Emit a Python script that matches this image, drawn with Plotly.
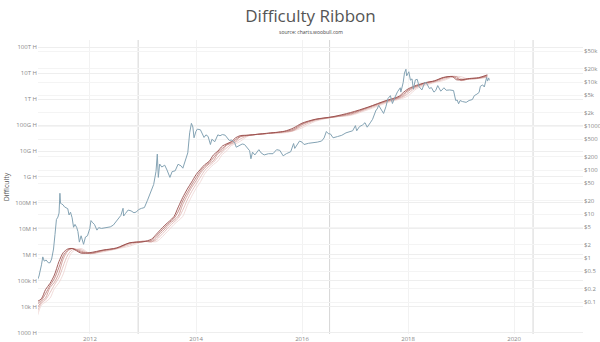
import plotly.graph_objects as go
import numpy as np

# ---------------- data ----------------
price_dates = [
    "2011-01-01", "2011-01-15", "2011-02-01", "2011-02-10", "2011-02-20", "2011-03-05", "2011-03-20",
    "2011-04-01", "2011-04-12", "2011-04-25", "2011-05-05", "2011-05-15", "2011-05-25", "2011-06-02",
    "2011-06-08", "2011-06-12", "2011-06-20", "2011-06-30", "2011-07-10", "2011-07-20", "2011-08-01",
    "2011-08-10", "2011-08-20", "2011-08-31", "2011-09-10", "2011-09-20", "2011-10-01", "2011-10-10",
    "2011-10-20", "2011-11-01", "2011-11-18", "2011-12-01", "2011-12-15", "2011-12-31", "2012-01-08",
    "2012-01-20", "2012-02-01", "2012-02-18", "2012-03-01", "2012-03-20", "2012-04-10", "2012-05-01",
    "2012-05-20", "2012-06-10", "2012-06-30", "2012-07-15", "2012-08-01", "2012-08-16", "2012-08-20",
    "2012-09-01", "2012-09-20", "2012-10-10", "2012-10-30", "2012-11-15", "2012-12-01", "2012-12-20",
    "2013-01-10", "2013-01-31", "2013-02-15", "2013-02-28", "2013-03-15", "2013-03-31", "2013-04-09",
    "2013-04-16", "2013-04-25", "2013-05-10", "2013-05-30", "2013-06-15", "2013-07-05", "2013-07-20",
    "2013-08-10", "2013-08-30", "2013-09-20", "2013-10-02", "2013-10-20", "2013-11-05", "2013-11-18",
    "2013-11-30", "2013-12-10", "2013-12-18", "2013-12-31", "2014-01-10", "2014-01-31", "2014-02-15",
    "2014-02-25", "2014-03-10", "2014-03-25", "2014-04-10", "2014-04-20", "2014-05-10", "2014-05-31",
    "2014-06-15", "2014-07-01", "2014-07-20", "2014-08-18", "2014-09-05", "2014-09-25", "2014-10-05",
    "2014-10-25", "2014-11-15", "2014-12-01", "2014-12-20", "2015-01-05", "2015-01-14", "2015-01-25",
    "2015-02-10", "2015-03-10", "2015-03-25", "2015-04-15", "2015-05-15", "2015-06-15", "2015-07-10",
    "2015-08-01", "2015-08-24", "2015-09-15", "2015-10-15", "2015-11-04", "2015-11-12", "2015-11-30",
    "2015-12-15", "2016-01-01", "2016-01-15", "2016-02-15", "2016-03-15", "2016-04-15", "2016-05-15",
    "2016-06-01", "2016-06-17", "2016-06-30", "2016-07-15", "2016-08-02", "2016-09-01", "2016-10-01",
    "2016-10-30", "2016-11-20", "2016-12-15", "2017-01-03", "2017-01-12", "2017-01-31", "2017-02-20",
    "2017-03-10", "2017-03-25", "2017-04-15", "2017-05-01", "2017-05-25", "2017-06-01", "2017-06-12",
    "2017-06-25", "2017-07-16", "2017-08-01", "2017-08-15", "2017-09-01", "2017-09-15", "2017-09-30",
    "2017-10-20", "2017-11-08", "2017-11-12", "2017-11-28", "2017-12-07", "2017-12-17", "2017-12-22",
    "2018-01-06", "2018-01-17", "2018-01-28", "2018-02-06", "2018-02-20", "2018-03-05", "2018-03-18",
    "2018-04-06", "2018-04-25", "2018-05-05", "2018-05-28", "2018-06-10", "2018-06-28", "2018-07-10",
    "2018-07-24", "2018-08-14", "2018-08-30", "2018-09-05", "2018-09-20", "2018-10-15", "2018-11-10",
    "2018-11-20", "2018-11-25", "2018-12-05", "2018-12-15", "2018-12-25", "2019-01-10", "2019-02-05",
    "2019-02-25", "2019-03-20", "2019-04-02", "2019-04-20", "2019-05-05", "2019-05-14", "2019-05-30",
    "2019-06-10", "2019-06-26", "2019-07-02", "2019-07-10", "2019-07-15",
]
price_usd = [
    0.30, 0.39, 0.70, 1.06, 0.85, 0.90, 0.78,
    0.78, 0.95, 1.60, 3.40, 7.50, 8.50, 10.5,
    29.6, 17.5, 17.0, 16.1, 14.5, 13.8, 13.2,
    9.5, 11.0, 8.2, 5.0, 5.8, 5.0, 4.0,
    2.3, 3.2, 2.05, 3.0, 3.2, 4.7, 7.1,
    6.3, 5.8, 4.3, 4.9, 4.7, 4.9, 5.0,
    5.1, 5.6, 6.7, 7.6, 9.3, 13.5, 9.0,
    10.2, 12.3, 11.8, 10.7, 11.1, 12.6, 13.4,
    14.0, 20.4, 27, 33, 47, 93, 230,
    68, 137, 117, 129, 100, 68, 92,
    96, 135, 124, 110, 170, 245, 700,
    1150, 950, 540, 750, 850, 820, 650,
    550, 630, 580, 380, 500, 440, 630,
    600, 640, 620, 470, 480, 410, 330,
    360, 390, 380, 320, 275, 180, 255,
    220, 290, 245, 220, 235, 235, 290,
    280, 210, 235, 260, 400, 310, 375,
    455, 430, 380, 405, 415, 430, 455,
    535, 750, 670, 660, 540, 575, 615,
    700, 740, 780, 1020, 780, 970, 1050,
    1190, 940, 1180, 1420, 2300, 2400, 2950,
    2500, 1930, 2740, 4200, 4900, 3250, 4350,
    6000, 7400, 5900, 9700, 16000, 19500, 13800,
    17100, 11000, 11800, 6900, 11200, 11500, 7800,
    6600, 9600, 9800, 7100, 7500, 5900, 6400,
    8300, 6200, 7000, 7400, 6500, 6600, 6400,
    4500, 3800, 3900, 3200, 3800, 3600, 3450,
    3800, 4000, 4900, 5300, 5800, 8000, 8600,
    7700, 12800, 10500, 12400, 10900,
]

ribbon_dates = [
    "2011-01-01", "2011-02-01", "2011-03-01", "2011-04-01", "2011-05-01", "2011-06-01", "2011-07-01",
    "2011-08-01", "2011-09-01", "2011-11-01", "2012-01-01", "2012-04-01", "2012-07-01", "2012-10-01",
    "2013-01-01", "2013-03-01", "2013-04-01", "2013-05-01", "2013-06-01", "2013-07-01", "2013-08-01",
    "2013-09-01", "2013-10-01", "2013-11-01", "2013-12-01", "2014-01-01", "2014-02-01", "2014-03-01",
    "2014-04-01", "2014-05-01", "2014-06-01", "2014-07-01", "2014-08-01", "2014-09-01", "2014-10-01",
    "2014-11-01", "2015-01-01", "2015-05-01", "2015-09-01", "2015-11-01", "2016-01-01", "2016-04-01",
    "2016-08-01", "2016-12-01", "2017-04-01", "2017-08-01", "2017-10-01", "2017-11-01", "2017-12-01",
    "2018-01-01", "2018-02-01", "2018-03-01", "2018-05-01", "2018-07-01", "2018-09-01", "2018-11-01",
    "2018-12-01", "2019-01-01", "2019-03-01", "2019-05-01", "2019-07-01",
]
# difficulty moving averages, read in decades (log10 of difficulty) because the axis is logarithmic
ma_fast_log10 = [
    4.2, 4.32, 4.67, 4.91, 5.23, 5.74, 6.09, 6.23, 6.25, 6.07, 6.09, 6.19, 6.27, 6.47,
    6.51, 6.61, 6.79, 6.97, 7.15, 7.30, 7.47, 7.85, 8.21, 8.53, 8.80, 9.09, 9.30, 9.47,
    9.60, 9.85, 10.0, 10.19, 10.28, 10.36, 10.51, 10.59, 10.61, 10.68, 10.76, 10.88, 11.07, 11.22,
    11.32, 11.48, 11.69, 11.94, 12.04, 12.11, 12.26, 12.39, 12.47, 12.53, 12.63, 12.70, 12.83, 12.86,
    12.74, 12.74, 12.79, 12.82, 12.93,
]
ma_2_log10 = [
    4.1, 4.26, 4.51, 4.83, 5.09, 5.52, 5.97, 6.19, 6.25, 6.11, 6.07, 6.18, 6.26, 6.46,
    6.51, 6.56, 6.72, 6.90, 7.08, 7.25, 7.40, 7.68, 8.08, 8.40, 8.69, 8.97, 9.23, 9.40,
    9.55, 9.74, 9.95, 10.10, 10.25, 10.33, 10.44, 10.56, 10.61, 10.67, 10.75, 10.83, 11.04, 11.21,
    11.31, 11.45, 11.68, 11.92, 12.01, 12.08, 12.19, 12.34, 12.44, 12.50, 12.62, 12.69, 12.82, 12.87,
    12.80, 12.73, 12.78, 12.81, 12.90,
]
ma_3_log10 = [
    3.95, 4.2, 4.35, 4.75, 4.95, 5.3, 5.85, 6.15, 6.25, 6.15, 6.05, 6.17, 6.25, 6.45,
    6.53, 6.51, 6.64, 6.83, 7.0, 7.19, 7.33, 7.5, 7.94, 8.28, 8.59, 8.85, 9.15, 9.34,
    9.5, 9.63, 9.9, 10.02, 10.23, 10.29, 10.38, 10.54, 10.6, 10.67, 10.74, 10.79, 11.01, 11.2,
    11.3, 11.42, 11.66, 11.9, 11.99, 12.05, 12.13, 12.29, 12.41, 12.48, 12.61, 12.67, 12.8, 12.87,
    12.86, 12.71, 12.78, 12.8, 12.87,
]
ma_4_log10 = [
    3.8, 4.15, 4.275, 4.55, 4.85, 5.125, 5.575, 6.0, 6.2, 6.2, 6.05, 6.145, 6.24, 6.40,
    6.53, 6.51, 6.575, 6.735, 6.915, 7.095, 7.26, 7.415, 7.72, 8.11, 8.435, 8.72, 9.0, 9.245,
    9.42, 9.565, 9.765, 9.96, 10.125, 10.26, 10.335, 10.46, 10.6, 10.67, 10.72, 10.78, 10.955, 11.175,
    11.3, 11.395, 11.63, 11.875, 11.97, 12.02, 12.09, 12.21, 12.35, 12.445, 12.575, 12.65, 12.755, 12.855,
    12.865, 12.785, 12.765, 12.795, 12.85,
]
ma_slow_log10 = [
    3.6, 4.08, 4.19, 4.34, 4.71, 4.93, 5.27, 5.80, 6.12, 6.25, 6.06, 6.12, 6.23, 6.34,
    6.52, 6.51, 6.51, 6.63, 6.81, 6.98, 7.17, 7.32, 7.48, 7.90, 8.25, 8.56, 8.82, 9.12,
    9.32, 9.48, 9.62, 9.87, 10.01, 10.21, 10.28, 10.37, 10.59, 10.67, 10.70, 10.77, 10.89, 11.14,
    11.30, 11.37, 11.59, 11.84, 11.945, 11.99, 12.04, 12.12, 12.27, 12.40, 12.53, 12.63, 12.71, 12.84,
    12.87, 12.86, 12.75, 12.79, 12.83,
]

halving_dates = ["2012-11-28", "2016-07-09", "2020-05-11"]

diff_tickvals = [1e3, 1e4, 1e5, 1e6, 1e7, 1e8, 1e9, 1e10, 1e11, 1e12, 1e13, 1e14]
diff_ticktext = ["1000 H", "10k H", "100k H", "1M H", "10M H", "100M H",
                 "1G H", "10G H", "100G H", "1T H", "10T H", "100T H"]
price_tickvals = [0.1, 0.2, 0.5, 1, 2, 5, 10, 20, 50, 100, 200, 500,
                  1000, 2000, 5000, 10000, 20000, 50000]
price_ticktext = ["$0.1", "$0.2", "$0.5", "$1", "$2", "$5", "$10", "$20", "$50", "$100",
                  "$200", "$500", "$1000", "$2k", "$5k", "$10k", "$20k", "$50k"]

# ---------------- figure ----------------
fig = go.Figure()

ribbon = [
    (ma_slow_log10, "#efd8d6"),
    (ma_4_log10, "#e2bcb9"),
    (ma_3_log10, "#d09d99"),
    (ma_2_log10, "#b97a76"),
    (ma_fast_log10, "#984c49"),
]
for vals, col in ribbon:
    fig.add_trace(go.Scatter(
        x=ribbon_dates, y=np.power(10.0, np.array(vals)), mode="lines",
        line=dict(color=col, width=0.9, shape="spline", smoothing=0.8),
        yaxis="y", hoverinfo="skip",
    ))

fig.add_trace(go.Scatter(
    x=price_dates, y=price_usd, mode="lines",
    line=dict(color="#84a3b4", width=1),
    yaxis="y2", hoverinfo="skip",
))

for d in halving_dates:
    fig.add_shape(type="line", xref="x", yref="paper", x0=d, x1=d, y0=0, y1=1,
                  line=dict(color="#d6d6d6", width=1), layer="below")

tick_font = dict(family="Open Sans", size=6, color="#888")

fig.update_layout(
    width=600, height=342,
    margin=dict(l=38, r=17, t=40, b=8, autoexpand=False),
    paper_bgcolor="white", plot_bgcolor="white",
    showlegend=False,
    font=dict(family="Open Sans", color="#444"),
    title=dict(text="Difficulty Ribbon", x=0.5, xref="paper", xanchor="center",
               y=1 - 16 / 342, yref="container", yanchor="middle",
               font=dict(family="Open Sans", size=17, color="#555")),
    xaxis=dict(
        type="date", range=["2011-01-08", "2021-04-20"], automargin=False,
        tickformat="%Y", dtick="M24", tick0="2012-01-01",
        showgrid=True, gridcolor="#f2f2f2", gridwidth=1,
        zeroline=False, showline=False, ticks="",
        tickfont=tick_font,
    ),
    yaxis=dict(
        type="log", range=[2.96, 14.27], automargin=False,
        tickvals=diff_tickvals, ticktext=diff_ticktext,
        showgrid=True, gridcolor="#eeeeee", zeroline=False, showline=False, ticks="",
        tickfont=tick_font,
        title=dict(text="Difficulty", font=dict(family="Open Sans", size=7, color="#555"), standoff=4),
    ),
    yaxis2=dict(
        type="log", range=[-1.727, 4.955], overlaying="y", side="right", automargin=False,
        tickvals=price_tickvals, ticktext=price_ticktext,
        showgrid=True, gridcolor="#f4f4f4", zeroline=False, showline=False, ticks="",
        tickfont=tick_font,
    ),
    annotations=[dict(
        text="source: charts.woobull.com", xref="paper", yref="paper",
        x=0.5, y=(334 - 32) / 294, xanchor="center", yanchor="middle",
        showarrow=False, font=dict(family="Open Sans", size=5, color="#444"),
    )],
)

fig.write_html("out.html")
